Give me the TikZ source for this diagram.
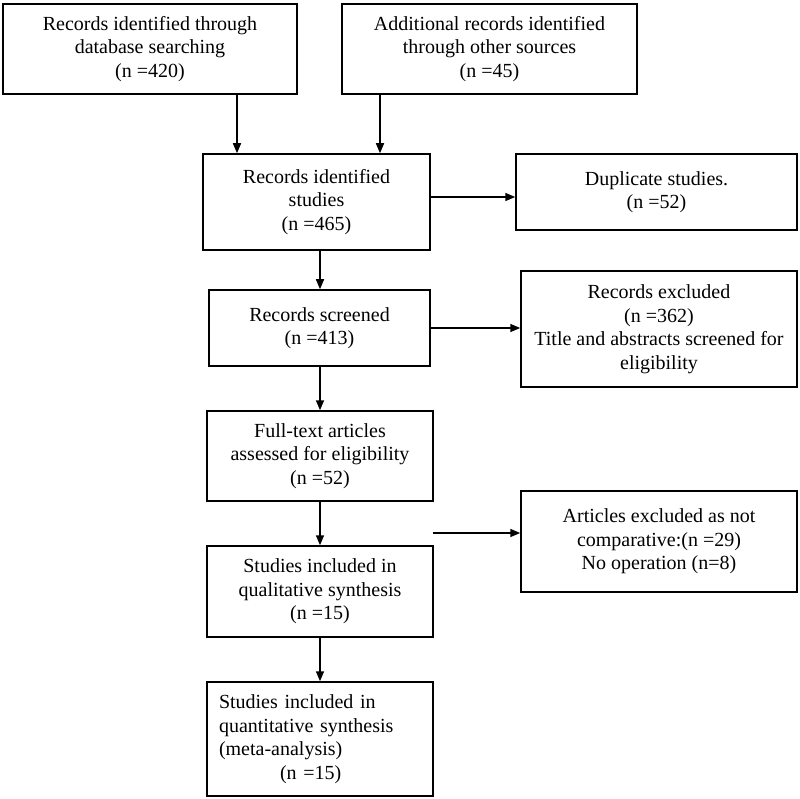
\documentclass[tikz,border=0pt]{standalone}
\usepackage{fontspec}
\setmainfont{Liberation Serif}
\usetikzlibrary{arrows.meta,calc}
\begin{document}
\begin{tikzpicture}[x=1pt,y=-1pt,
 box/.style={draw,line width=1.5pt,inner sep=0pt,align=center,font=\fontsize{20}{23.5}\selectfont},
 arr/.style={line width=1.5pt,-{Triangle[length=10pt,width=8pt]}}]
\useasboundingbox (0,0) rectangle (800,799);
\node[box,minimum width=294pt,minimum height=90pt] (b1) at (150,49) {Records identified through\\database searching\\(n =420)};
\node[box,minimum width=295pt,minimum height=90pt] (b2) at (489.5,49) {Additional records identified\\through other sources\\(n =45)};
\node[box,minimum width=227pt,minimum height=96pt] (b3) at (316.5,202) {Records identified\\studies\\(n =465)};
\node[box,minimum width=281pt,minimum height=76pt] (dup) at (656.5,192) {Duplicate studies.\\(n =52)};
\node[box,minimum width=221pt,minimum height=76pt] (scr) at (319.5,328) {Records screened\\(n =413)};
\node[box,minimum width=276pt,minimum height=116pt] (rex) at (659,329) {Records excluded\\(n =362)\\Title and abstracts screened for\\eligibility};
\node[box,minimum width=226pt,minimum height=90pt] (ft) at (320,456) {Full-text articles\\assessed for eligibility\\(n =52)};
\node[box,minimum width=276pt,minimum height=101pt] (aex) at (659,541.5) {Articles excluded as not\\comparative:(n =29)\\No operation (n=8)};
\node[box,minimum width=226pt,minimum height=91pt] (qual) at (320,591.5) {Studies included in\\qualitative synthesis\\(n =15)};
\node[box,minimum width=226pt,minimum height=114pt,text width=202pt,align=left] (quant) at (320,739) {Studies included in\\quantitative synthesis\\(meta-analysis)\\\hspace*{61pt}(n =15)};
\coordinate (x1) at (237,0);
\coordinate (x2) at (380,0);
\coordinate (xm) at (320,0);
\coordinate (y1) at (0,197);
\coordinate (fs) at (433,533);
\draw[arr] (b1.south -| x1) -- (b3.north -| x1);
\draw[arr] (b2.south -| x2) -- (b3.north -| x2);
\draw[arr] (b3.east |- y1) -- (dup.west |- y1);
\draw[arr] (b3.south -| xm) -- (scr.north -| xm);
\draw[arr] (scr.east) -- (scr.east -| rex.west);
\draw[arr] (scr.south -| xm) -- (ft.north -| xm);
\draw[arr] (ft.south -| xm) -- (qual.north -| xm);
\draw[arr] (fs) -- (fs -| aex.west);
\draw[arr] (qual.south -| xm) -- (quant.north -| xm);
\end{tikzpicture}
\end{document}
